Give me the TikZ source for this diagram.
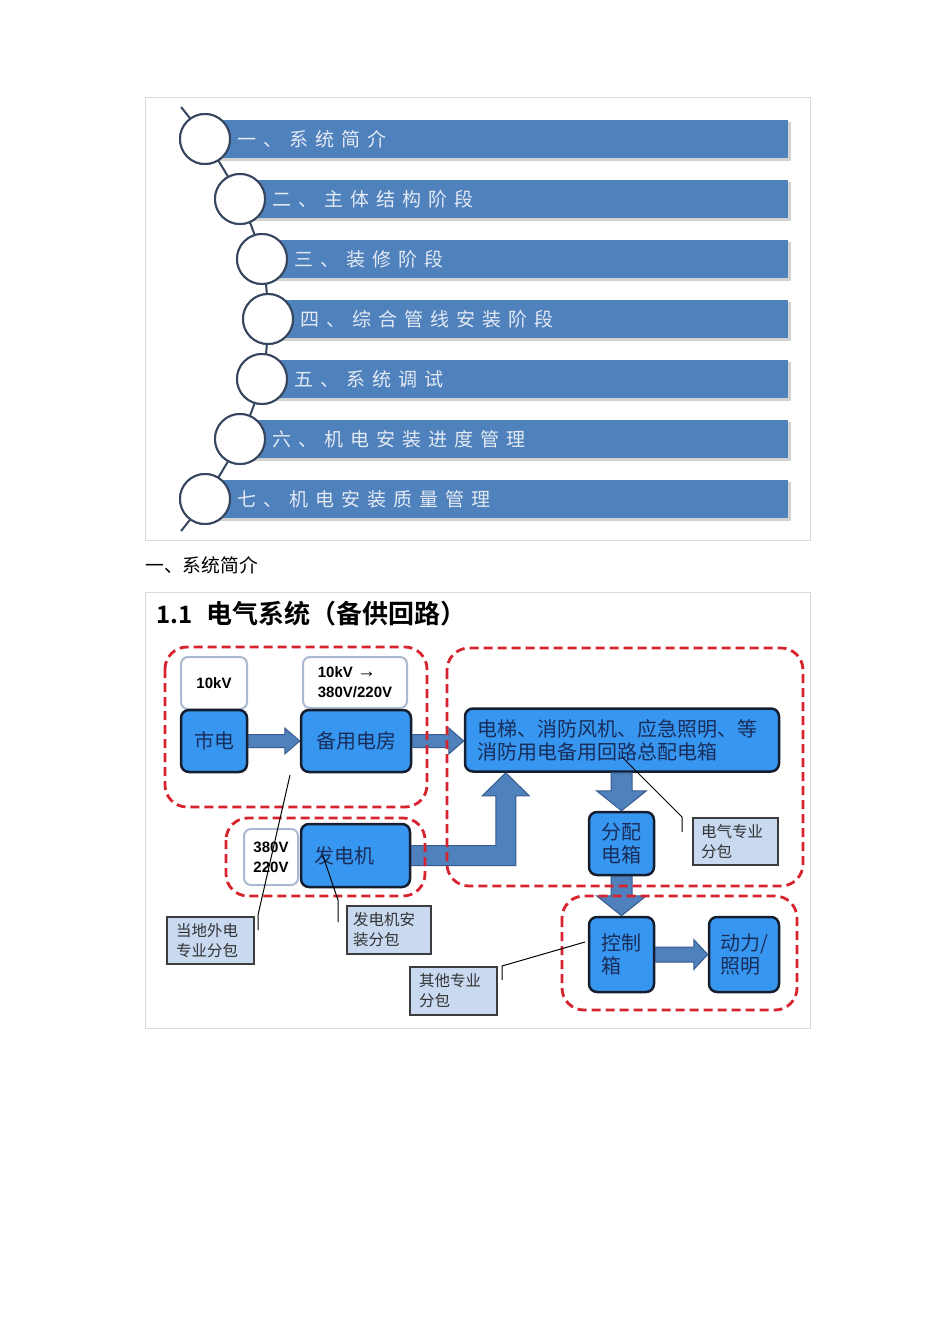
\documentclass[tikz,border=0pt]{standalone}
\usepackage{fontspec}
\setmainfont{Liberation Sans}
\newfontfamily\cjk{Noto Sans CJK SC}[BoldFont={Noto Sans CJK SC Bold}]
\usetikzlibrary{calc}

\definecolor{barblue}{RGB}{79,129,189}
\definecolor{bartxt}{RGB}{228,234,244}
\definecolor{ringcol}{RGB}{55,70,95}
\definecolor{nodeblue}{RGB}{55,150,240}
\definecolor{nodeedge}{RGB}{20,30,48}
\definecolor{navy}{RGB}{25,45,90}
\definecolor{paleedge}{RGB}{170,185,208}
\definecolor{labelfill}{RGB}{200,217,240}
\definecolor{labeledge}{RGB}{60,60,60}
\definecolor{groupred}{RGB}{215,35,45}
\definecolor{arrowfill}{RGB}{79,129,189}
\definecolor{arrowedge}{RGB}{58,92,140}

% letter-spaced text for the outline bars
\def\spaced#1{\spacedA#1\relax}
\def\spacedA#1{\ifx#1\relax\else#1\hspace{7pt}\expandafter\spacedA\fi}

% block arrows: start point, tip point, shaft half-width, head half-width, head length
\newcommand\blockright[5]{%
  \draw[blockarrow] ($(#1)+(0,-#3)$) -- ($(#2)+(-#5,-#3)$) -- ($(#2)+(-#5,-#4)$) -- (#2)
    -- ($(#2)+(-#5,#4)$) -- ($(#2)+(-#5,#3)$) -- ($(#1)+(0,#3)$) -- cycle;}
\newcommand\blockdown[5]{%
  \draw[blockarrow] ($(#1)+(-#3,0)$) -- ($(#2)+(-#3,-#5)$) -- ($(#2)+(-#4,-#5)$) -- (#2)
    -- ($(#2)+(#4,-#5)$) -- ($(#2)+(#3,-#5)$) -- ($(#1)+(#3,0)$) -- cycle;}

\begin{document}
\begin{tikzpicture}[x=1pt,y=-1pt,
  panel/.style={draw=gray!30,line width=0.8pt},
  bar/.style={fill=barblue},
  barshadow/.style={fill=gray!35},
  chainline/.style={draw=ringcol,line width=2pt},
  ring/.style={circle,draw=ringcol,line width=2pt,fill=white,minimum size=50pt,inner sep=0pt},
  bartext/.style={anchor=west,text=bartxt,font=\cjk\fontsize{19}{22}\selectfont},
  unit/.style={draw=nodeedge,line width=2.5pt,fill=nodeblue,rounded corners=8pt,
    text=navy,font=\cjk\fontsize{20}{23}\selectfont,inner sep=0pt},
  volt/.style={draw=paleedge,line width=2pt,fill=white,rounded corners=7pt,
    font=\bfseries\fontsize{15}{20}\selectfont,inner sep=0pt,align=left},
  tag/.style={draw=labeledge,line width=1.2pt,fill=labelfill,text=black!80,
    font=\cjk\fontsize{15.5}{20}\selectfont,inner sep=0pt,align=left},
  group/.style={draw=groupred,line width=2.8pt,dash pattern=on 9pt off 5pt,rounded corners=22pt},
  blockarrow/.style={fill=arrowfill,draw=arrowedge,line width=1pt},
  leader/.style={draw=black,line width=1pt}
]
\useasboundingbox[fill=white] (0,0) rectangle (950,1344);

% ---------- outline of chapters ----------
\draw[panel] (145,97) rectangle (810,540);
\foreach \cx/\cy in {205/139,240/199,262/259,268/319,262/379,240/439,205/499}{
  \fill[barshadow] (\cx+2,\cy-17) rectangle (791,\cy+22);
  \fill[bar] (\cx,\cy-19) rectangle (788,\cy+19);
}
\coordinate (chtop) at (181,107);
\coordinate (chbot) at (181,531);
\node[ring] (r1) at (205,139) {};
\node[ring] (r2) at (240,199) {};
\node[ring] (r3) at (262,259) {};
\node[ring] (r4) at (268,319) {};
\node[ring] (r5) at (262,379) {};
\node[ring] (r6) at (240,439) {};
\node[ring] (r7) at (205,499) {};
\draw[chainline] plot[smooth,tension=0.5] coordinates {(chtop) (r1.center) (r2.center) (r3.center) (r4.center) (r5.center) (r6.center) (r7.center) (chbot)};
\foreach \i in {1,...,7}{ \node[ring] at (r\i) {}; }
\node[bartext] (t1) at (234,139) {\spaced{一、系统简介}};
\node[bartext] (t2) at (269,199) {\spaced{二、主体结构阶段}};
\node[bartext] (t3) at (291,259) {\spaced{三、装修阶段}};
\node[bartext] (t4) at (297,319) {\spaced{四、综合管线安装阶段}};
\node[bartext] (t5) at (291,379) {\spaced{五、系统调试}};
\node[bartext] (t6) at (269,439) {\spaced{六、机电安装进度管理}};
\node[bartext] (t7) at (234,499) {\spaced{七、机电安装质量管理}};

\node[anchor=west,inner sep=0pt,font=\cjk\fontsize{18.8}{21}\selectfont] (cap) at (145,565) {一、系统简介};

% ---------- electrical backup supply ----------
\draw[panel] (145,592) rectangle (810,1028);
\node[anchor=west,inner sep=0pt,font=\cjk\bfseries\fontsize{26}{30}\selectfont] (title) at (156,614)
  {{\fontsize{24}{28}\selectfont 1.1}\hspace{14pt}电气系统（备供回路）};

\node[volt,minimum width=66pt,minimum height=52pt] (v1) at (214,683) {10kV};
\node[volt,minimum width=104pt,minimum height=51pt] (v2) at (355,682.5) {10kV {\fontsize{19}{20}\selectfont\textrightarrow}\\380V/220V};
\node[volt,minimum width=54pt,minimum height=56pt] (v3) at (271,857) {380V\\220V};

\node[unit,minimum width=66pt,minimum height=62pt] (sd) at (214,741) {市电};
\node[unit,minimum width=110pt,minimum height=62pt] (bf) at (356,741) {备用电房};
\node[unit,minimum width=109pt,minimum height=63pt,text width=83pt,align=left] (fdj) at (355.5,855.5) {发电机};
\node[unit,minimum width=314pt,minimum height=63pt,text width=290pt,align=left] (zp) at (622,740)
  {电梯、消防风机、应急照明、等\\消防用电备用回路总配电箱};
\node[unit,minimum width=65pt,minimum height=63pt,align=center] (fp) at (621.5,843.5) {分配\\电箱};
\node[unit,minimum width=65pt,minimum height=75pt,align=left] (kz) at (621.5,954.5) {控制\\箱};
\node[unit,minimum width=70pt,minimum height=75pt,align=left] (dl) at (744,954.5) {动力/\\照明};

% flow arrows
\blockright{sd.east}{bf.west}{6.5}{13}{15}
\coordinate (t2tip) at (bf.east -| zp.west);
\blockright{bf.east}{t2tip}{6.5}{13}{15}
\coordinate (fptop) at (fp.north |- zp.south);
\blockdown{fptop}{fp.north}{10.5}{25}{20}
\blockdown{fp.south}{kz.north}{10.5}{25}{20}
\blockright{kz.east}{dl.west}{7.5}{15}{14}
\coordinate (etip) at ($(zp.south west)+(42,0)$);
\draw[blockarrow] ($(fdj.east)+(0,-10)$) -- ($(etip |- fdj.east)+(-10,-10)$) -- ($(etip)+(-10,23)$)
  -- ($(etip)+(-23.5,23)$) -- (etip) -- ($(etip)+(23.5,23)$) -- ($(etip)+(10,23)$)
  -- ($(etip |- fdj.east)+(10,10)$) -- ($(fdj.east)+(0,10)$) -- cycle;

% contract groups
\draw[group] (165,647) rectangle (427,807);
\draw[group] (226,818) rectangle (425,896);
\draw[group] (447,648) rectangle (803,886);
\draw[group] (562,896) rectangle (797,1010);

% subcontract tags
\node[tag,minimum width=85pt,minimum height=47pt,text width=69pt] (tg1) at (735.5,841.5) {电气专业\\分包};
\node[tag,minimum width=87pt,minimum height=47pt,text width=69pt] (tg2) at (210.5,940.5) {当地外电\\专业分包};
\node[tag,minimum width=84pt,minimum height=48pt,text width=72pt] (tg3) at (389,930) {发电机安\\装分包};
\node[tag,minimum width=87pt,minimum height=48pt,text width=69pt] (tg4) at (453.5,991) {其他专业\\分包};

\coordinate (p1) at (682,832); \coordinate (q1) at (623,758);
\coordinate (p2) at (258,930); \coordinate (q2) at (290,775);
\coordinate (p3) at (338,922); \coordinate (q3) at (323,856);
\coordinate (p4) at (502,980); \coordinate (q4) at (585,942);
\draw[leader] (p1) -- ++(0,-15) -- (q1);
\draw[leader] (p2) -- ++(0,-15) -- (q2);
\draw[leader] (p3) -- ++(0,-22) -- (q3);
\draw[leader] (p4) -- ++(0,-14) -- (q4);
\end{tikzpicture}
\end{document}
